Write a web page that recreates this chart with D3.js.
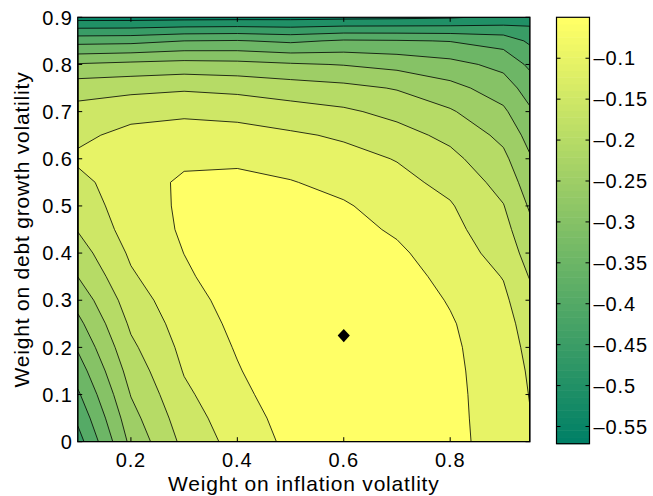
<!DOCTYPE html>
<html>
<head>
<meta charset="utf-8">
<script src="https://cdn.jsdelivr.net/npm/d3@7"></script>
<style>
  body { margin: 0; background: #fff; }
  text { font-family: "Liberation Sans", Arial, Helvetica, sans-serif; fill: #000; }
</style>
</head>
<body>
<div id="chart"></div>
<script>
// filled contour of the loss surface over the two policy weights

// grid columns: weight on inflation volatility
const xs = [0.1, 0.2, 0.3, 0.4, 0.5, 0.6, 0.7, 0.8, 0.9, 0.95]
// grid rows: weight on debt growth volatility
const ys = [0, 0.05, 0.1, 0.15, 0.2, 0.25, 0.3, 0.35, 0.4, 0.45, 0.5, 0.55, 0.6, 0.65, 0.7, 0.75, 0.8, 0.85, 0.9]

// values, one row per ys entry, one column per xs entry
const payoff = [
  [-0.472, -0.287, -0.187, -0.1304, -0.089, -0.077, -0.070, -0.080, -0.131, -0.146],
  [-0.440, -0.2676, -0.1734, -0.1214, -0.083, -0.068, -0.064, -0.082, -0.132, -0.149],
  [-0.408, -0.248, -0.1596, -0.1124, -0.074, -0.060, -0.060, -0.083, -0.134, -0.151],
  [-0.376, -0.229, -0.1471, -0.1035, -0.066, -0.054, -0.058, -0.085, -0.1363, -0.153],
  [-0.3445, -0.210, -0.1374, -0.096, -0.062, -0.050, -0.059, -0.089, -0.1369, -0.157],
  [-0.314, -0.1918, -0.1277, -0.089, -0.061, -0.051, -0.063, -0.095, -0.1372, -0.165],
  [-0.2825, -0.1743, -0.118, -0.082, -0.063, -0.059, -0.070, -0.1038, -0.1407, -0.183],
  [-0.250, -0.1566, -0.1082, -0.071, -0.067, -0.066, -0.080, -0.1143, -0.152, -0.203],
  [-0.223, -0.1424, -0.0995, -0.071, -0.072, -0.075, -0.092, -0.1248, -0.1687, -0.221],
  [-0.1976, -0.1288, -0.094, -0.074, -0.079, -0.085, -0.106, -0.1353, -0.1833, -0.238],
  [-0.181, -0.1215, -0.0932, -0.079, -0.088, -0.095, -0.121, -0.1457, -0.198, -0.256],
  [-0.1645, -0.1203, -0.093, -0.086, -0.0975, -0.1143, -0.136, -0.1634, -0.2177, -0.275],
  [-0.142, -0.1253, -0.108, -0.1098, -0.1197, -0.134, -0.1523, -0.1863, -0.2384, -0.295],
  [-0.1604, -0.1364, -0.132, -0.1333, -0.1431, -0.1565, -0.1816, -0.2126, -0.2626, -0.318],
  [-0.184, -0.1657, -0.1578, -0.1638, -0.179, -0.1919, -0.2144, -0.2445, -0.2913, -0.343],
  [-0.220, -0.2136, -0.2067, -0.2135, -0.2253, -0.2362, -0.2535, -0.2846, -0.3248, -0.373],
  [-0.2957, -0.287, -0.2804, -0.2842, -0.2943, -0.3022, -0.3153, -0.3339, -0.3644, -0.410],
  [-0.418, -0.415, -0.400, -0.397, -0.4088, -0.3939, -0.3963, -0.4019, -0.4203, -0.459],
  [-0.571, -0.571, -0.569, -0.567, -0.566, -0.563, -0.560, -0.555, -0.540, -0.525]
]

// contour levels
const levels = [-0.55, -0.5, -0.45, -0.4, -0.35, -0.3, -0.25, -0.2, -0.15, -0.1]

// ticks
const xTicks = [0.2, 0.4, 0.6, 0.8]
const yTicks = [0, 0.1, 0.2, 0.3, 0.4, 0.5, 0.6, 0.7, 0.8, 0.9]
const cbTicks = [-0.55, -0.5, -0.45, -0.4, -0.35, -0.3, -0.25, -0.2, -0.15, -0.1]

// optimum marker
const optimum = [{ x: 0.6, y: 0.225 }]

// size
const width = 653
const height = 496

// plot box
const plotLeft = 77.7
const plotRight = 530
const plotTop = 17.3
const plotBottom = 441.7

// colorbar box
const cbLeft = 556.5
const cbRight = 589.5
const cbTop = 17.3
const cbBottom = 443.7

const tickLen = 4.5
const tickSize = "20px"
const labelSize = "21px"

// scales
const x = d3.scaleLinear([0.1, 0.95], [plotLeft, plotRight])
const y = d3.scaleLinear([0, 0.9], [plotBottom, plotTop])

const flat = payoff.flat()
const [vmin, vmax] = d3.extent(flat)
const cScale = d3.scaleLinear([vmin, vmax], [cbBottom, cbTop])

// MATLAB summer colormap, 64 entries
const nColors = 64
const summer = i => {
  const r = i / (nColors - 1)
  return d3.rgb(255 * r, 255 * (0.5 + r / 2), 102).formatHex()
}
const colorIndex = v => Math.max(0, Math.min(nColors - 1, Math.floor((v - vmin) / (vmax - vmin) * nColors)))
const colorOf = v => summer(colorIndex(v))

// grid coordinates from d3.contours -> data values
const gx = d3.scaleLinear(xs.map((d, i) => i + 0.5), xs).clamp(true)
const gy = d3.scaleLinear(ys.map((d, i) => i + 0.5), ys).clamp(true)
const proj = d3.geoTransform({
  point(px, py) { this.stream.point(x(gx(px)), y(gy(py))) }
})
const path = d3.geoPath(proj)

const contours = d3.contours()
  .size([xs.length, ys.length])
  .thresholds(levels)(flat)

// svg
const svg = d3.select("#chart")
  .append("svg")
  .attr("width", width)
  .attr("height", height)
  .attr("viewBox", [0, 0, width, height])

svg.append("rect")
  .attr("width", width).attr("height", height)
  .attr("fill", "#fff")

svg.append("clipPath").attr("id", "plotclip")
  .append("rect")
  .attr("x", plotLeft).attr("y", plotTop)
  .attr("width", plotRight - plotLeft).attr("height", plotBottom - plotTop)

const plot = svg.append("g").attr("clip-path", "url(#plotclip)")

// lowest band
plot.append("rect")
  .attr("x", plotLeft).attr("y", plotTop)
  .attr("width", plotRight - plotLeft).attr("height", plotBottom - plotTop)
  .attr("fill", colorOf(levels[0]))

// bands: region above level i takes the colour of the next level up
plot.append("g")
  .selectAll("path")
  .data(contours)
  .join("path")
  .attr("d", path)
  .attr("fill", (d, i) => colorOf(i + 1 < levels.length ? levels[i + 1] : vmax))
  .attr("stroke", "none")

// contour lines
plot.append("g")
  .selectAll("path")
  .data(contours)
  .join("path")
  .attr("d", path)
  .attr("fill", "none")
  .attr("stroke", "#000")
  .attr("stroke-width", 0.8)

// optimum diamond
plot.append("g")
  .selectAll("path")
  .data(optimum)
  .join("path")
  .attr("d", d3.symbol(d3.symbolSquare, 74))
  .attr("transform", d => `translate(${x(d.x)},${y(d.y)}) scale(1,1.1) rotate(45)`)
  .attr("fill", "#000")

// frame
svg.append("rect")
  .attr("x", plotLeft).attr("y", plotTop)
  .attr("width", plotRight - plotLeft).attr("height", plotBottom - plotTop)
  .attr("fill", "none").attr("stroke", "#000").attr("stroke-width", 1.2)

// ticks, inside on all four sides
const ticks = svg.append("g").attr("stroke", "#000").attr("stroke-width", 1)
ticks.selectAll(".xb").data(xTicks).join("line")
  .attr("x1", d => x(d)).attr("x2", d => x(d))
  .attr("y1", plotBottom).attr("y2", plotBottom - tickLen)
ticks.selectAll(".xt").data(xTicks).join("line")
  .attr("x1", d => x(d)).attr("x2", d => x(d))
  .attr("y1", plotTop).attr("y2", plotTop + tickLen)
ticks.selectAll(".yl").data(yTicks).join("line")
  .attr("x1", plotLeft).attr("x2", plotLeft + tickLen)
  .attr("y1", d => y(d)).attr("y2", d => y(d))
ticks.selectAll(".yr").data(yTicks).join("line")
  .attr("x1", plotRight).attr("x2", plotRight - tickLen)
  .attr("y1", d => y(d)).attr("y2", d => y(d))

// tick labels
svg.append("g").selectAll("text").data(xTicks).join("text")
  .attr("x", d => x(d))
  .attr("y", plotBottom + 25)
  .attr("text-anchor", "middle")
  .attr("font-size", tickSize)
  .attr("letter-spacing", "0.9px")
  .text(d => d3.format(".1f")(d))

svg.append("g").selectAll("text").data(yTicks).join("text")
  .attr("x", plotLeft - 5)
  .attr("y", d => y(d) + 7.2)
  .attr("text-anchor", "end")
  .attr("font-size", tickSize)
  .attr("letter-spacing", "0.9px")
  .text(d => d === 0 ? "0" : d3.format(".1f")(d))

// axis labels
svg.append("text")
  .attr("x", (plotLeft + plotRight) / 2)
  .attr("y", 491)
  .attr("text-anchor", "middle")
  .attr("font-size", labelSize)
  .attr("letter-spacing", "0.8px")
  .text("Weight on inflation volatlity")

svg.append("text")
  .attr("transform", `translate(29,${(plotTop + plotBottom) / 2}) rotate(-90)`)
  .attr("text-anchor", "middle")
  .attr("font-size", labelSize)
  .attr("letter-spacing", "0.8px")
  .text("Weight on debt growth volatility")

// colorbar
const cbSteps = d3.range(nColors)
const step = (vmax - vmin) / nColors
svg.append("g").selectAll("rect").data(cbSteps).join("rect")
  .attr("x", cbLeft)
  .attr("width", cbRight - cbLeft)
  .attr("y", i => cScale(vmin + (i + 1) * step))
  .attr("height", i => cScale(vmin + i * step) - cScale(vmin + (i + 1) * step) + 0.5)
  .attr("fill", i => summer(i))

svg.append("rect")
  .attr("x", cbLeft).attr("y", cbTop)
  .attr("width", cbRight - cbLeft).attr("height", cbBottom - cbTop)
  .attr("fill", "none").attr("stroke", "#000").attr("stroke-width", 1.2)

const cbt = svg.append("g").attr("stroke", "#000").attr("stroke-width", 1)
cbt.selectAll(".l").data(cbTicks).join("line")
  .attr("x1", cbLeft).attr("x2", cbLeft + 4)
  .attr("y1", d => cScale(d)).attr("y2", d => cScale(d))
cbt.selectAll(".r").data(cbTicks).join("line")
  .attr("x1", cbRight).attr("x2", cbRight - 4)
  .attr("y1", d => cScale(d)).attr("y2", d => cScale(d))

svg.append("g").selectAll("text").data(cbTicks).join("text")
  .attr("x", cbRight + 4)
  .attr("y", d => cScale(d) + 7.2)
  .attr("font-size", tickSize)
  .attr("letter-spacing", "0.9px")
  .text(d => "\u2013" + d3.format("")(Math.abs(d)))
</script>
</body>
</html>
